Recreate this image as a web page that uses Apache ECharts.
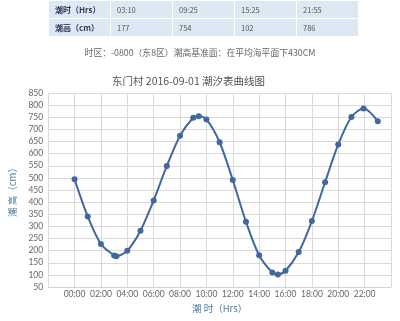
<!DOCTYPE html>
<html>
<head>
<meta charset="utf-8">
<script src="https://cdn.jsdelivr.net/npm/echarts@6/dist/echarts.min.js"></script>
<style>
  html, body { margin: 0; padding: 0; background: #fff; }
  #wrap { position: relative; width: 400px; height: 321px; overflow: hidden; font-family: "Noto Sans CJK SC", "Noto Sans", sans-serif; }
  #chart { position: absolute; left: 0; top: 0; width: 400px; height: 321px; }
  #tbl { position: absolute; left: 48px; top: 0px; border-collapse: separate; border-spacing: 1px; table-layout: fixed; }
  #tbl td { background: #dde8f5; height: 17px; padding: 0 0 0 6px; font-size: 7.5px; color: #555; white-space: nowrap; line-height: 17px; }
  #tbl td.h { font-weight: bold; color: #2b3a50; font-size: 8px; }
  #sub { position: absolute; left: 0; width: 400px; top: 46px; text-align: center; font-size: 8.8px; color: #666; white-space: nowrap; }
</style>
</head>
<body>
<div id="wrap">
  <div id="chart"></div>
  <table id="tbl"><tbody id="tb"></tbody></table>
  <div id="sub">时区：-0800（东8区）潮高基准面：在平均海平面下430CM</div>
</div>
<script>
// ---- data ----
var tableRowLabels = ['潮时（Hrs）', '潮高（cm）'];
var tideTimes = ['03:10', '09:25', '15:25', '21:55'];
var tideHeights = [177, 754, 102, 786];

var times = ['00:00','01:00','02:00','03:00','03:10','04:00','05:00','06:00','07:00','08:00','09:00','09:25','10:00','11:00','12:00','13:00','14:00','15:00','15:25','16:00','17:00','18:00','19:00','20:00','21:00','21:55','23:00'];
var heights = [494,341,227,180,177,200,282,407,549,674,748,754,741,647,491,319,181,110,102,117,194,322,482,638,751,786,733];

var titleText = '东门村 2016-09-01 潮汐表曲线图';
var xName = '潮 时（Hrs）';
var yName = '潮 高（cm）';

// ---- table ----
var colW = [55, 55, 55, 55, 55];
var tb = document.getElementById('tb');
[tideTimes, tideHeights].forEach(function (row, i) {
  var tr = document.createElement('tr');
  var th = document.createElement('td');
  th.className = 'h';
  th.style.width = colW[0] + 'px';
  th.textContent = tableRowLabels[i];
  tr.appendChild(th);
  row.forEach(function (v, j) {
    var td = document.createElement('td');
    td.style.width = colW[j + 1] + 'px';
    td.textContent = v;
    tr.appendChild(td);
  });
  tb.appendChild(tr);
});

// ---- chart ----
function toHours(s) { var p = s.split(':'); return +p[0] + (+p[1]) / 60; }
var seriesData = times.map(function (t, i) { return [toHours(t), heights[i]]; });

var chart = echarts.init(document.getElementById('chart'), null, { renderer: 'canvas' });
chart.setOption({
  animation: false,
  title: {
    text: titleText,
    left: 107, top: 71,
    textStyle: { fontSize: 10.5, fontWeight: 'normal', color: '#555', fontFamily: 'Noto Sans CJK SC' }
  },
  grid: { left: 43, right: 9, top: 93, bottom: 34, containLabel: false },
  xAxis: {
    type: 'value', min: -2, max: 24, interval: 2,
    name: xName, nameLocation: 'middle', nameGap: 12,
    nameTextStyle: { color: '#4a7ea6', fontSize: 9.5, fontFamily: 'Noto Sans CJK SC' },
    axisLine: { show: true, lineStyle: { color: '#c8d4e0', width: 1 } },
    axisTick: { show: false },
    axisLabel: {
      color: '#666', fontSize: 8.5, margin: 3, fontFamily: 'Lato',
      formatter: function (v) {
        if (v < 0 || v >= 24) return '';
        return (v < 10 ? '0' : '') + v + ':00';
      }
    },
    splitLine: { show: true, lineStyle: { color: '#dadada', width: 1 } }
  },
  yAxis: {
    type: 'value', min: 50, max: 850, interval: 50,
    name: yName, nameLocation: 'middle', nameGap: 26, nameRotate: 90,
    nameTextStyle: { color: '#4a7ea6', fontSize: 9.5, fontFamily: 'Noto Sans CJK SC' },
    axisLine: { show: false },
    axisTick: { show: false },
    axisLabel: { color: '#666', fontSize: 8.5, margin: 5, fontFamily: 'Lato' },
    splitLine: { show: true, lineStyle: { color: '#dadada', width: 1 } }
  },
  series: [{
    type: 'line',
    data: seriesData,
    smooth: 0.3,
    symbol: 'circle',
    symbolSize: 6,
    lineStyle: { color: '#41689e', width: 2 },
    itemStyle: { color: '#41689e' }
  }]
});
</script>
</body>
</html>
